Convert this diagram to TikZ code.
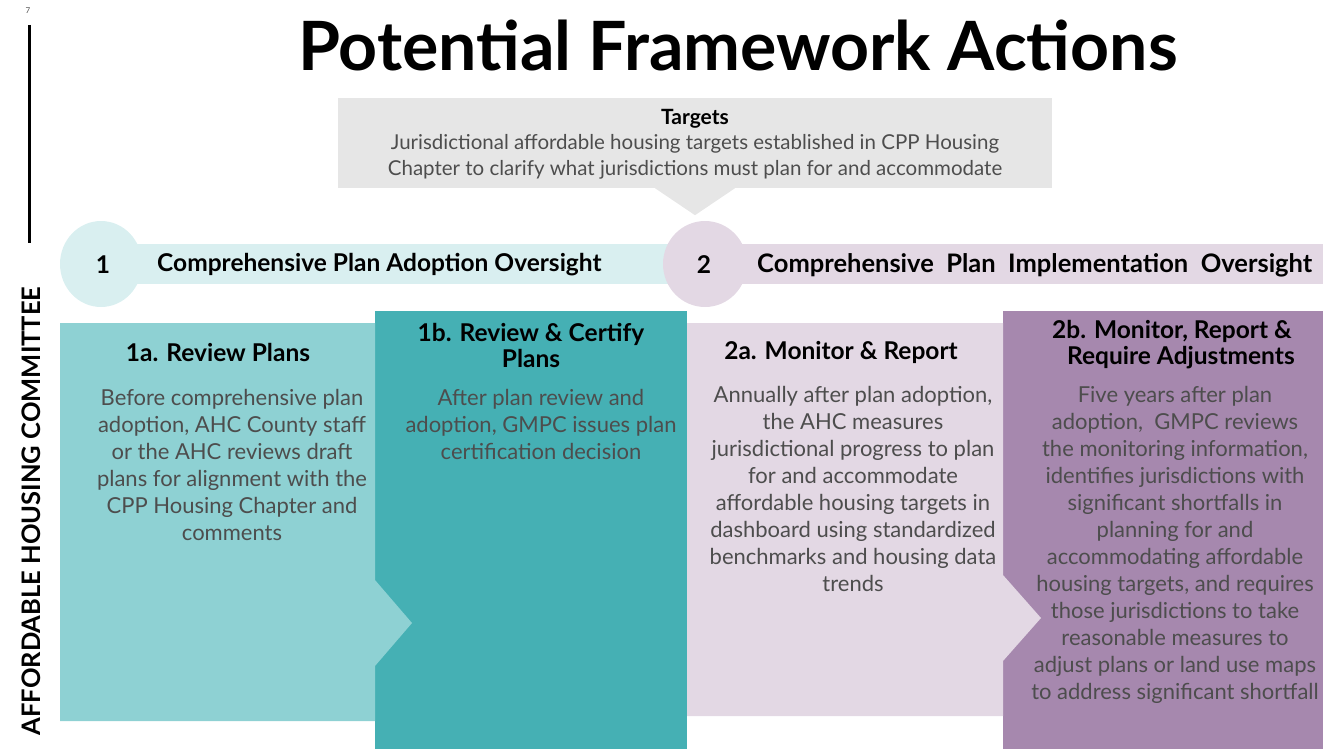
\documentclass[tikz,border=0pt]{standalone}
\usepackage{fontspec}
\usepackage{xcolor}
\usepackage{tikz}
\setmainfont{Lato}

\definecolor{tealpale}{HTML}{D9EFF0}
\definecolor{teallight}{HTML}{8ED1D3}
\definecolor{tealdark}{HTML}{45B0B4}
\definecolor{mauvepale}{HTML}{E3D8E4}
\definecolor{mauvedark}{HTML}{A688AE}
\definecolor{boxgray}{HTML}{E6E6E6}
\definecolor{bodygray}{HTML}{4D4D4D}

\begin{document}
\begin{tikzpicture}[x=1pt, y=-1pt,
	head/.style={font=\bfseries\fontsize{24.5}{26}\selectfont, align=center, inner sep=0pt},
	body/.style={font=\fontsize{22}{27}\selectfont, align=center, text=bodygray, inner sep=0pt, anchor=north},
	band/.style={font=\bfseries\fontsize{24.5}{26}\selectfont, inner sep=0pt}]
\useasboundingbox (0,0) rectangle (1340,749);

% side label
\node[font=\fontsize{8}{9}\selectfont, text=bodygray] (pagenum) at (28,11) {7};
\draw[line width=3pt] (29,25) -- (29,243);
\node[rotate=90, font=\bfseries\fontsize{25.5}{28}\selectfont] (committee) at (31,511) {AFFORDABLE HOUSING COMMITTEE};

% heading
\node[font=\bfseries\fontsize{68}{76}\selectfont] (title) at (738,45) {Potential Framework Actions};

% targets callout
\node[fill=boxgray, minimum width=714pt, minimum height=90pt, inner sep=0pt] (targets) at (695,143) {};
\fill[boxgray] ([xshift=-40pt]targets.south) -- ([xshift=40pt]targets.south) -- ++(-40,27) -- cycle;
\node[head, font=\bfseries\fontsize{21}{26}\selectfont] (tgthead) at (695,119) {Targets};
\node[body, font=\fontsize{20.5}{26}\selectfont] (tgtbody) at (695,134) {Jurisdictional affordable housing targets established in CPP Housing\\
	Chapter to clarify what jurisdictions must plan for and accommodate};

% phase bands
\fill[tealpale] (101,244) rectangle (690,284);
\fill[tealpale] (101,264) ellipse [x radius=41pt, y radius=43pt];
\fill[mauvepale] (705,244) rectangle (1323,284);
\fill[mauvepale] (705,264) ellipse [x radius=42pt, y radius=43pt];
\node[band] (num1) at (103,265) {1};
\node[band, anchor=west] (band1) at (157,265) {Comprehensive Plan Adoption Oversight};
\node[band] (num2) at (704,265) {2};
\node[band, anchor=west, font=\bfseries\fontsize{25.5}{26}\selectfont] (band2) at (757,265) {\makebox[555pt][s]{Comprehensive Plan Implementation Oversight}};

% step boxes
\fill[tealdark] (375,311) rectangle (687,749);
\fill[teallight] (60,323) -- (375,323) -- (375,580) -- (412,623) -- (375,666) -- (375,721) -- (60,721) -- cycle;
\fill[mauvedark] (1003,311) rectangle (1323,749);
\fill[mauvepale] (687,323) -- (1003,323) -- (1003,575) -- (1041,618) -- (1003,661) -- (1003,716) -- (687,716) -- cycle;

\node[head] (review) at (218,352) {1a. Review Plans};
\node[body] (reviewtxt) at (232,389) {Before comprehensive plan\\
	adoption, AHC County staff\\
	or the AHC reviews draft\\
	plans for alignment with the\\
	CPP Housing Chapter and\\
	comments};

\node[head] (certify) at (531,345) {1b. Review \& Certify\\ Plans};
\node[body] (certifytxt) at (541,389) {After plan review and\\
	adoption, GMPC issues plan\\
	certification decision};

\node[head] (monitor) at (841,352) {2a. Monitor \& Report};
\node[body] (monitortxt) at (853,386) {Annually after plan adoption,\\
	the AHC measures\\
	jurisdictional progress to plan\\
	for and accommodate\\
	affordable housing targets in\\
	dashboard using standardized\\
	benchmarks and housing data\\
	trends};

\node[head] (adjust) at (1172,345) {2b. Monitor, Report \&\\ \ \ \ Require Adjustments};
\node[body] (adjusttxt) at (1175,386) {Five years after plan\\
	adoption,\ \ GMPC reviews\\
	the monitoring information,\\
	identifies jurisdictions with\\
	significant shortfalls in\\
	planning for and\\
	accommodating affordable\\
	housing targets, and requires\\
	those jurisdictions to take\\
	reasonable measures to\\
	adjust plans or land use maps\\
	to address significant shortfall};
\end{tikzpicture}
\end{document}
